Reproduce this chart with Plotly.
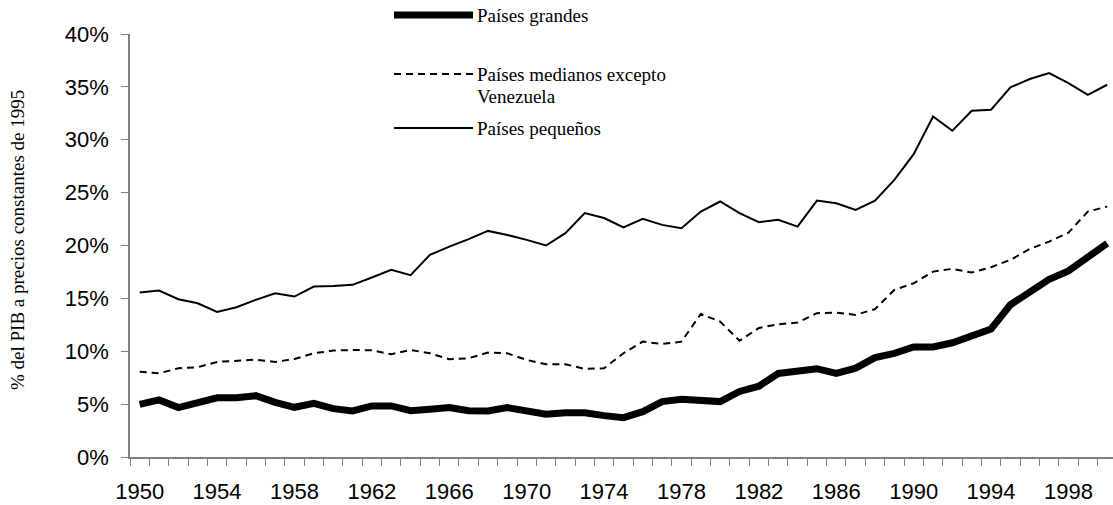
import plotly.graph_objects as go

years = list(range(1950, 2001))

grandes = [4.98, 5.4, 4.67, 5.1, 5.6, 5.6, 5.8, 5.17, 4.7, 5.08,
           4.57, 4.35, 4.83, 4.83, 4.38, 4.51, 4.67, 4.38, 4.35, 4.67,
           4.35, 4.04, 4.19, 4.19, 3.91, 3.72, 4.29, 5.24, 5.46, 5.36,
           5.24, 6.2, 6.7, 7.9, 8.15, 8.35, 7.9, 8.4, 9.4, 9.8,
           10.4, 10.4, 10.8, 11.5, 12.1, 14.4, 15.6, 16.8, 17.6, 18.9,
           20.2]

medianos = [8.07, 7.92, 8.39, 8.49, 8.99, 9.11, 9.21, 8.99, 9.27, 9.81,
            10.06, 10.12, 10.09, 9.72, 10.12, 9.81, 9.24, 9.34, 9.87, 9.81,
            9.18, 8.77, 8.77, 8.33, 8.39, 9.81, 10.91, 10.69, 10.91, 13.53,
            12.8, 11.0, 12.2, 12.55, 12.71, 13.6, 13.66, 13.44, 13.98, 15.8,
            16.43, 17.53, 17.79, 17.44, 17.95, 18.64, 19.68, 20.37, 21.22, 23.21,
            23.68]

pequenos = [15.55, 15.74, 14.92, 14.54, 13.72, 14.16, 14.86, 15.49, 15.17, 16.12,
            16.18, 16.28, 16.97, 17.7, 17.19, 19.11, 19.9, 20.6, 21.38, 21.0,
            20.53, 20.0, 21.17, 23.06, 22.6, 21.7, 22.52, 21.95, 21.64, 23.21,
            24.16, 23.06, 22.2, 22.43, 21.79, 24.25, 24.0, 23.37, 24.25, 26.21,
            28.64, 32.2, 30.85, 32.74, 32.84, 34.95, 35.74, 36.3, 35.36, 34.25,
            35.2]

names = ["Países grandes", "Países medianos excepto", "Países pequeños"]
name_cont = "Venezuela"
x_labels = list(range(1950, 2000, 4))
y_ticks = list(range(0, 41, 5))
y_text = [f"{v}%" for v in y_ticks]

W, H = 1113, 505
L, R, T, B = 130, 0, 34, 48
pw, ph = W - L - R, H - T - B

def px(x):
    return (x - L) / pw

def py(y):
    return (H - B - y) / ph

dash_style = "7px,5px"

fig = go.Figure()
fig.add_trace(go.Scatter(x=years, y=pequenos, mode="lines", name=names[2],
                         line=dict(color="black", width=2)))
fig.add_trace(go.Scatter(x=years, y=medianos, mode="lines", name=names[1] + " " + name_cont,
                         line=dict(color="black", width=2, dash=dash_style)))
fig.add_trace(go.Scatter(x=years, y=grandes, mode="lines", name=names[0],
                         line=dict(color="black", width=7)))

serif = "Liberation Serif, Times New Roman, serif"
sans = "Liberation Sans, Arial, sans-serif"

# manual legend
leg = [(names[0], 15, dict(color="black", width=7)),
       (names[1], 74, dict(color="black", width=2, dash=dash_style)),
       (names[2], 128, dict(color="black", width=2))]
shapes = []
annotations = []
for name, ly, lstyle in leg:
    shapes.append(dict(type="line", xref="paper", yref="paper",
                       x0=px(394), x1=px(473), y0=py(ly), y1=py(ly), line=lstyle))
    annotations.append(dict(text=name, xref="paper", yref="paper", x=px(475), y=py(ly),
                            xanchor="left", yanchor="middle", showarrow=False, align="left",
                            font=dict(family=serif, size=19, color="black")))
annotations.append(dict(text=name_cont, xref="paper", yref="paper", x=px(475), y=py(96),
                        xanchor="left", yanchor="middle", showarrow=False, align="left",
                        font=dict(family=serif, size=19, color="black")))

annotations.append(dict(text="% del PIB a precios constantes de 1995", xref="paper", yref="paper",
                        x=px(17), y=py(240), textangle=-90, xanchor="center", yanchor="middle",
                        showarrow=False, font=dict(family=serif, size=19, color="black")))

fig.update_layout(
    width=W, height=H,
    margin=dict(l=L, r=R, t=T, b=B),
    plot_bgcolor="white", paper_bgcolor="white",
    showlegend=False,
    shapes=shapes, annotations=annotations,
    xaxis=dict(range=[1949.5, 1949.5 + pw / 19.35], tickvals=x_labels,
               ticktext=[str(v) for v in x_labels], ticks="", showgrid=False,
               showline=True, linecolor="#808080", linewidth=1.5, zeroline=False,
               tickfont=dict(family=sans, size=22, color="black"), ticklabelstandoff=14,
               minor=dict(ticks="outside", ticklen=7, tickcolor="#808080", tickwidth=1,
                          tick0=1949.5, dtick=1, showgrid=False)),
    yaxis=dict(range=[0, 40], tickvals=y_ticks, ticktext=y_text, ticks="outside",
               ticklen=7, tickcolor="#808080", tickwidth=1, showgrid=False,
               showline=True, linecolor="#808080", linewidth=1.5, zeroline=False,
               tickfont=dict(family=sans, size=22, color="black"), ticklabelstandoff=8),
)

fig.write_html("out.html", config={"displayModeBar": False},
               post_script="document.body.style.margin='0px';document.body.style.overflow='hidden';")
